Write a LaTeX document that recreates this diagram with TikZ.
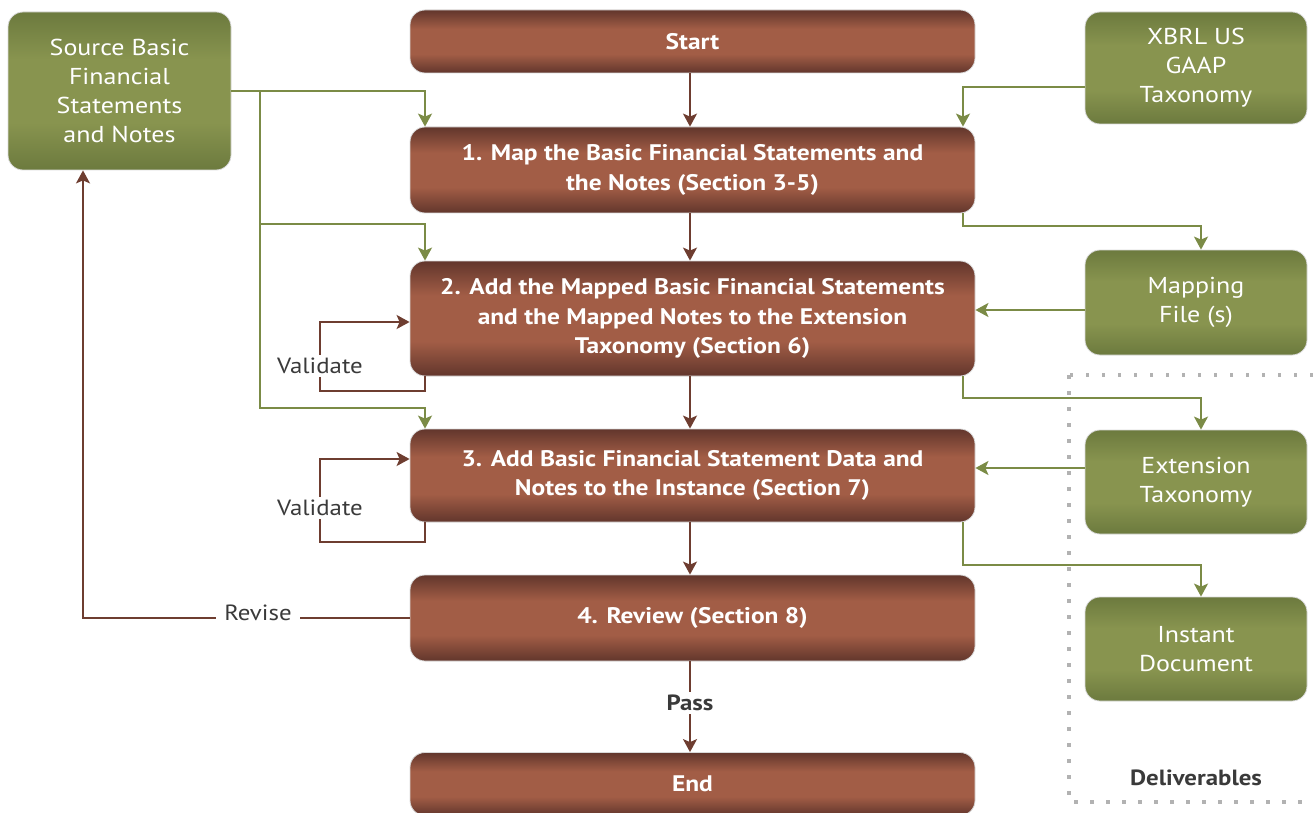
\documentclass[tikz,border=0pt]{standalone}
\usepackage{fontspec}
\setmainfont{PT Sans}[FakeStretch=1.13]
\usetikzlibrary{arrows.meta}
\definecolor{bdark}{HTML}{62362C}
\definecolor{bmid}{HTML}{A25D46}
\definecolor{gdark}{HTML}{6C7A3E}
\definecolor{gmid}{HTML}{88944F}
\definecolor{glinec}{HTML}{7B8B46}
\definecolor{blinec}{HTML}{6E3D30}
\definecolor{txt}{HTML}{3A3A3A}
\pgfdeclareverticalshading{brownsh}{100bp}{color(0bp)=(bdark); color(25bp)=(bdark); color(40bp)=(bmid); color(60bp)=(bmid); color(75bp)=(bdark); color(100bp)=(bdark)}
\pgfdeclareverticalshading{greensh}{100bp}{color(0bp)=(gdark); color(25bp)=(gdark); color(40bp)=(gmid); color(60bp)=(gmid); color(75bp)=(gdark); color(100bp)=(gdark)}
\begin{document}
\begin{tikzpicture}[x=1pt,y=-1pt,
  brownbox/.style={rectangle, rounded corners=15pt, shade, shading=brownsh, draw=white!85!black, line width=0.8pt,
    minimum width=565pt, text=white, font=\fontsize{22.5}{29.5}\selectfont\bfseries, align=center, inner sep=0pt},
  greenbox/.style={rectangle, rounded corners=15pt, shade, shading=greensh, draw=white!85!black, line width=0.8pt,
    minimum width=222pt, text=white, font=\fontsize{23}{29}\selectfont, align=center, inner sep=0pt},
  gconn/.style={draw=glinec, line width=2pt},
  garrow/.style={gconn, -{Stealth[length=13pt,width=14pt,inset=3pt]}},
  bconn/.style={draw=blinec, line width=2pt},
  barrow/.style={bconn, -{Stealth[length=13pt,width=14pt,inset=3pt]}},
  lab/.style={fill=white, text=txt, font=\fontsize{22}{26}\selectfont, inner sep=3pt},
  blab/.style={fill=white, text=txt, font=\fontsize{22}{26}\selectfont\bfseries, inner sep=3pt},
  dotbox/.style={draw=gray!60, line width=3.5pt, dash pattern=on 3.5pt off 12.5pt}
]
\useasboundingbox (0,0) rectangle (1314,813);

% deliverables frame
\draw[dotbox] (1069,375) rectangle (1340,802);
\node[blab, fill=none] (dlv) at (1196,778) {Deliverables};

% process boxes
\node[brownbox, minimum height=63pt] (st) at (692.5,41.5) {Start};
\node[brownbox, minimum height=86pt] (b1) at (692.5,170) {1. Map the Basic Financial Statements and\\the Notes (Section 3-5)};
\node[brownbox, minimum height=115pt] (b2) at (692.5,318.5) {2. Add the Mapped Basic Financial Statements\\and the Mapped Notes to the Extension\\Taxonomy (Section 6)};
\node[brownbox, minimum height=93pt] (b3) at (692.5,475.5) {3. Add Basic Financial Statement Data and\\Notes to the Instance (Section 7)};
\node[brownbox, minimum height=86pt] (b4) at (692.5,618) {4. Review (Section 8)};
\node[brownbox, minimum height=63pt] (en) at (692.5,784) {End};

% resource boxes
\node[greenbox, minimum width=223pt, minimum height=158pt] (src) at (119.5,91) {Source Basic\\Financial\\Statements\\and Notes};
\node[greenbox, minimum height=112pt] (xb) at (1196,68) {XBRL US\\GAAP\\Taxonomy};
\node[greenbox, minimum height=105pt] (map) at (1196,302.5) {Mapping\\File (s)};
\node[greenbox, minimum height=104pt] (ext) at (1196,482) {Extension\\Taxonomy};
\node[greenbox, minimum height=104pt] (ins) at (1196,649) {Instant\\Document};

% helper coordinates
\coordinate (cx) at (690,0);
\coordinate (vx) at (260,0);
\coordinate (lx) at (425,0);
\coordinate (rx) at (963,0);
\coordinate (gx) at (1201,0);
\coordinate (vlx) at (320,0);
\coordinate (rvx) at (83,0);
\coordinate (hx) at (0,87);
\coordinate (h1) at (0,226);
\coordinate (h2) at (0,224);
\coordinate (h3) at (0,408);
\coordinate (h4) at (0,398);
\coordinate (h5) at (0,565);
\coordinate (my) at (0,310);
\coordinate (ey) at (0,468);
\coordinate (v2t) at (0,322);
\coordinate (v2b) at (0,391);
\coordinate (v3t) at (0,459);
\coordinate (v3b) at (0,542);

% main flow
\draw[barrow] (cx |- st.south) -- (cx |- b1.north);
\draw[barrow] (cx |- b1.south) -- (cx |- b2.north);
\draw[barrow] (cx |- b2.south) -- (cx |- b3.north);
\draw[barrow] (cx |- b3.south) -- (cx |- b4.north);
\draw[barrow] (cx |- b4.south) -- (cx |- en.north);
\node[blab] (pass) at (690,703) {Pass};

% source inputs
\draw[garrow] (src.east) -| (lx |- b1.north);
\draw[garrow] (src.east -| vx) |- (lx |- h2) -- (lx |- b2.north);
\draw[garrow] (vx |- h2) |- (lx |- h3) -- (lx |- b3.north);

% taxonomy input
\draw[garrow] (xb.west |- hx) -| (rx |- b1.north);

% outputs
\draw[garrow] (rx |- b1.south) -- (rx |- h1) -| (gx |- map.north);
\draw[garrow] (rx |- b2.south) -- (rx |- h4) -| (gx |- ext.north);
\draw[garrow] (rx |- b3.south) -- (rx |- h5) -| (gx |- ins.north);

% feed back into steps
\draw[garrow] (map.west |- my) -- (b2.east |- my);
\draw[garrow] (ext.west |- ey) -- (b3.east |- ey);

% validate loops
\draw[barrow] (lx |- b2.south) -- (lx |- v2b) -| (vlx |- v2t) -- (b2.west |- v2t);
\node[lab] (val2) at (320,366) {Validate};
\draw[barrow] (lx |- b3.south) -- (lx |- v3b) -| (vlx |- v3t) -- (b3.west |- v3t);
\node[lab] (val3) at (320,508) {Validate};

% revise
\draw[barrow] (b4.west) -- (rvx |- b4.west) -- (rvx |- src.south);
\node[lab, inner xsep=8pt] (rev) at (258,613) {Revise};
\end{tikzpicture}
\end{document}
